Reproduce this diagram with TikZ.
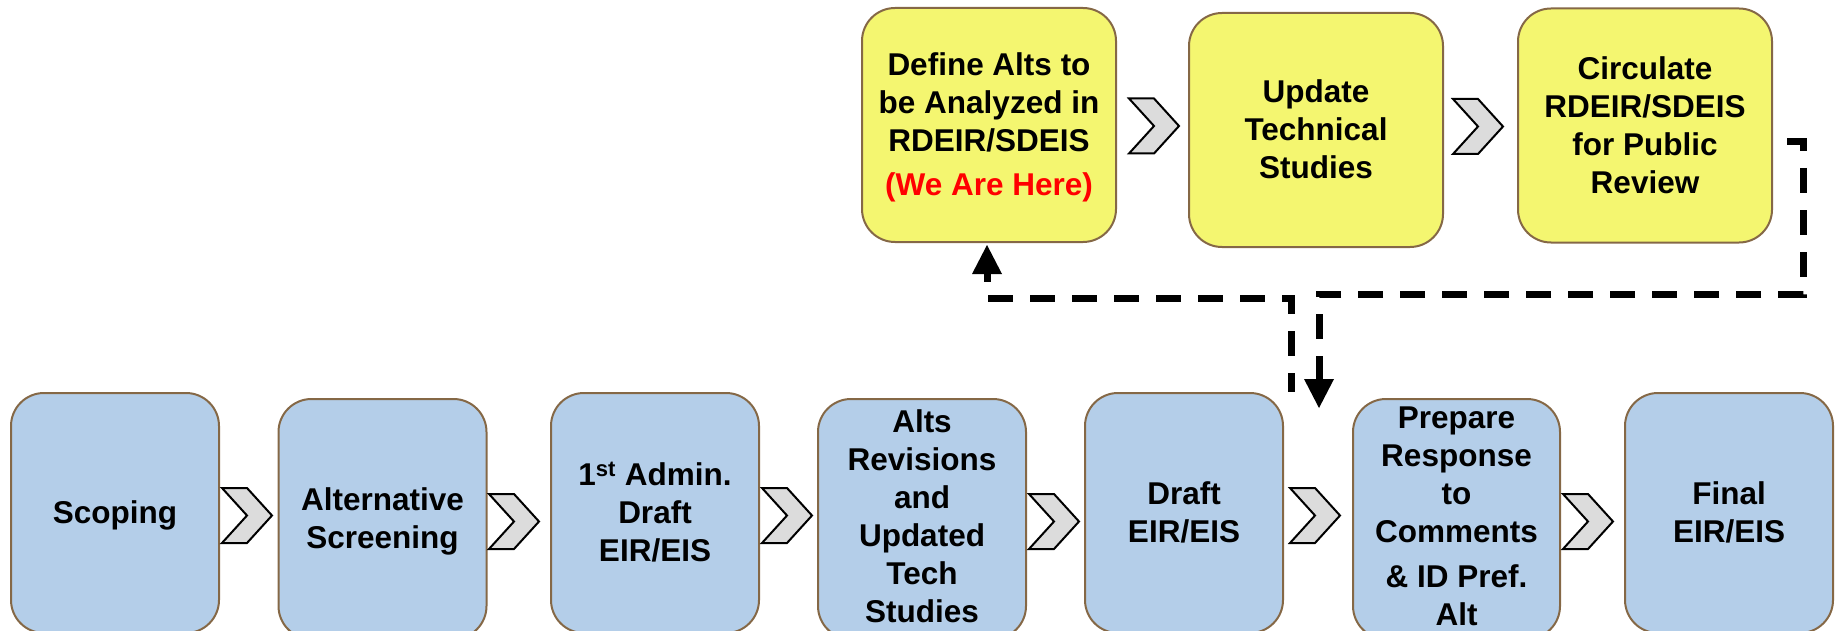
\documentclass[tikz,border=0pt]{standalone}
\usepackage{fontspec}
\setmainfont{Liberation Sans}
\usetikzlibrary{arrows.meta}
\definecolor{boxblue}{RGB}{180,206,233}
\definecolor{boxyellow}{RGB}{244,246,112}
\definecolor{boxedge}{RGB}{133,104,70}
\definecolor{chevgray}{RGB}{220,220,220}
\definecolor{herered}{RGB}{255,0,0}
\newcommand\pst{\rule[-6.7pt]{0pt}{35.2pt}}
\newcommand\mychev[2]{\draw[chev] (#1,#2) -- ++(25,0) -- ++(25,27.5) -- ++(-25,27.5) -- ++(-25,0) -- ++(25,-27.5) -- cycle;}
\begin{document}
\begin{tikzpicture}[x=1pt,y=-1pt,
  stage/.style={draw=boxedge, line width=2pt, rounded corners=33pt, inner sep=0pt, align=center,
                font=\fontsize{31.5}{38}\selectfont\bfseries},
  bluestage/.style={stage, fill=boxblue, minimum width=208pt, minimum height=240pt},
  yellowstage/.style={stage, fill=boxyellow, minimum width=254pt, minimum height=234pt},
  chev/.style={draw=black, fill=chevgray, line width=2pt, line join=miter},
  loopline/.style={draw=black, line width=7pt, line join=miter, dash pattern=on 25pt off 17pt}
]
\useasboundingbox (0,0) rectangle (1835,631);
\clip (0,0) rectangle (1835,631);

% top row
\node[yellowstage] (define) at (989,125) {\pst Define Alts to\\\pst be Analyzed in\\\pst RDEIR/SDEIS\\[6pt]\pst\textcolor{herered}{(We Are Here)}};
\node[yellowstage] (update) at (1316,130) {\pst Update\\\pst Technical\\\pst Studies};
\node[yellowstage] (circ) at (1645,125.5) {\pst Circulate\\\pst RDEIR/SDEIS\\\pst for Public\\\pst Review};

% bottom row
\node[bluestage] (scoping) at (115,513) {\pst Scoping};
\node[bluestage] (altscr) at (382.5,519) {\pst Alternative\\\pst Screening};
\node[bluestage] (admin) at (655,513) {\pst 1\textsuperscript{st} Admin.\\\pst Draft\\\pst EIR/EIS};
\node[bluestage] (alts) at (922,519) {\pst Alts\\\pst Revisions\\\pst and\\\pst Updated\\\pst Tech\\\rule[-10.7pt]{0pt}{39.2pt}Studies};
\node[bluestage, minimum width=198pt] (draft) at (1184,513) {\pst Draft\\\pst EIR/EIS};
\node[bluestage, minimum width=207pt] (prep) at (1456.5,519) {\pst Prepare\\\pst Response\\\pst to\\\pst Comments\\[7pt]\pst \& ID Pref.\\\rule[-13.5pt]{0pt}{42pt}Alt};
\node[bluestage] (final) at (1729,513) {\pst Final\\\pst EIR/EIS};

% chevrons
\mychev{1129}{98.5}
\mychev{1453}{99}
\mychev{222}{488}
\mychev{489}{494}
\mychev{762}{488}
\mychev{1029}{494}
\mychev{1290}{488}
\mychev{1563}{494}

% dashed loop connectors
\coordinate (aStart) at (1779,142);
\coordinate (aEnd) at (1319,408);
\coordinate (bStart) at (1291,392);
\coordinate (bEnd) at (987,245);
\draw[loopline, dash phase=34pt, -{Triangle[width=30pt,length=29pt,line width=0pt]}]
  (aStart) -- (1803,142) -- (1803,294) -- (1319,294) -- (aEnd);
\draw[loopline, dash phase=17pt, {Triangle[width=30pt,length=29pt,line width=0pt]}-]
  (bEnd) -- (987,298) -- (1291,298) -- (bStart);
\end{tikzpicture}
\end{document}
